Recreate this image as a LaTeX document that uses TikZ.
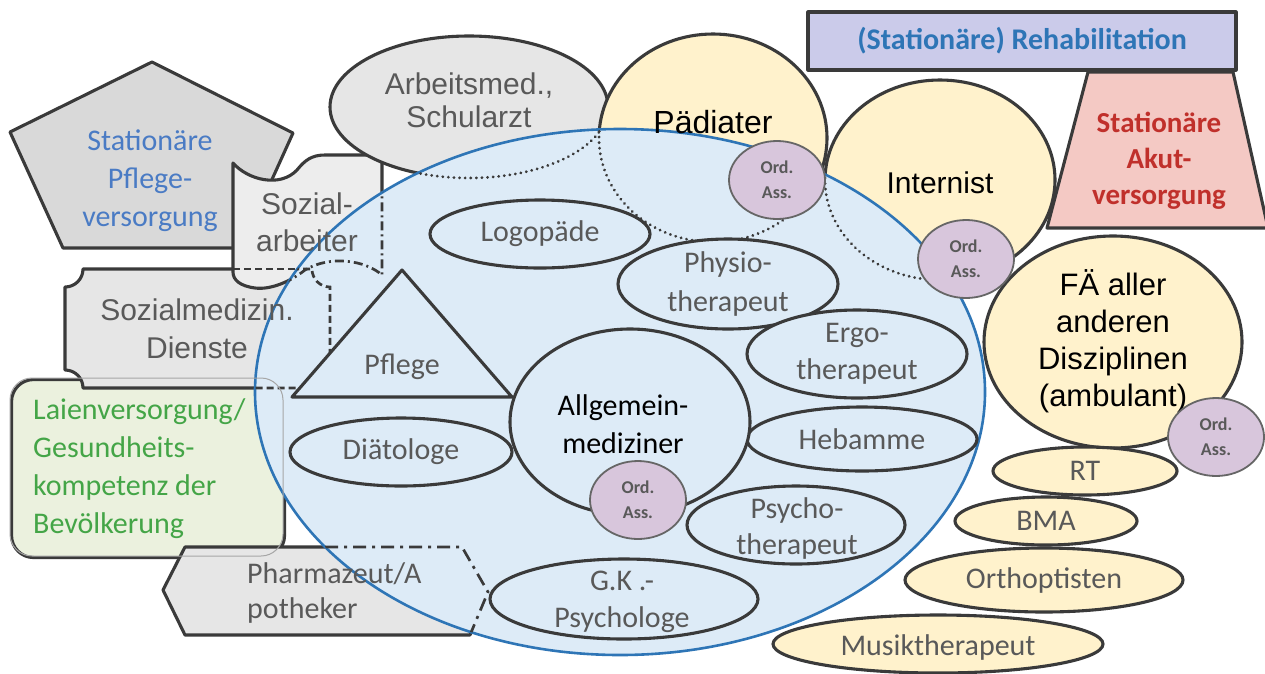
\documentclass[tikz,border=0pt]{standalone}
\usepackage{fontspec}
\setmainfont{Carlito}
\newfontfamily\arialf{Liberation Sans}
\usetikzlibrary{shapes.geometric}
\definecolor{edge}{HTML}{3A3A3A}
\definecolor{bluefill}{HTML}{DDEBF7}
\definecolor{blueline}{HTML}{2E75B6}
\definecolor{yel}{HTML}{FFF2CC}
\definecolor{gray1}{HTML}{D9D9D9}
\definecolor{gray2}{HTML}{EDEDED}
\definecolor{gray3}{HTML}{E6E6E6}
\definecolor{laien}{HTML}{EBF1DE}
\definecolor{oafill}{HTML}{D8C6DC}
\definecolor{oaedge}{HTML}{666666}
\definecolor{rehab}{HTML}{CBCBEA}
\definecolor{akut}{HTML}{F4C9C4}
\definecolor{txtgray}{HTML}{595959}
\definecolor{txtblue}{HTML}{4A7BC4}
\definecolor{txtblue2}{HTML}{2E75B6}
\definecolor{txtred}{HTML}{C0302B}
\definecolor{txtgreen}{HTML}{44A547}
\begin{document}
\begin{tikzpicture}[x=1pt,y=-1pt,
  shp/.style={draw=edge, line width=3.1pt, line join=round},
  ell/.style={ellipse, draw=edge, line width=3.1pt, inner sep=0pt},
  oa/.style={ellipse, draw=oaedge, fill=oafill, line width=1.8pt, inner sep=0pt, minimum width=96pt, minimum height=78pt},
  oat/.style={font=\bfseries\fontsize{18}{25}\selectfont, text=txtgray, align=center, inner sep=0pt},
  cal/.style={font=\fontsize{30}{38}\selectfont, text=txtgray, align=center, inner sep=0pt},
  ari/.style={font=\arialf\fontsize{30}{37}\selectfont, align=center, inner sep=0pt},
  dotline/.style={draw=edge, line width=3pt, dash pattern=on 0.1pt off 5.5pt, line cap=round},
  dashdot/.style={draw=edge, line width=2.7pt, dash pattern=on 9pt off 4pt on 2pt off 4pt},
  dashdotlong/.style={draw=edge, line width=2.7pt, dash pattern=on 13pt off 6pt on 3pt off 6pt},
  dashln/.style={draw=edge, line width=2.7pt, dash pattern=on 7pt off 4pt},
  faint/.style={draw=gray!70, line width=1pt},
]
\useasboundingbox (0,0) rectangle (1265,673);
\fill[white] (0,0) rectangle (1265,673);

% ---------- left gray shapes ----------
\draw[shp, fill=gray1] (152,62) -- (293,133) -- (241,248) -- (63,248) -- (10,132) -- cycle;
\node[shp, fill=laien, rounded corners=22pt, minimum width=273pt, minimum height=178pt, anchor=north west, inner sep=0pt] (laien) at (10,378) {};
\draw[shp, fill=gray3] (83,269) -- (312,269) .. controls (312,279) and (320,287) .. (330,287) -- (330,370) .. controls (320,370) and (312,378) .. (312,388) -- (83,388) .. controls (83,378) and (75,370) .. (65,370) -- (65,287) .. controls (75,287) and (83,279) .. (83,269) -- cycle;
\draw[shp, fill=gray2] (233,163) .. controls (248,180) and (280,188) .. (297,170) .. controls (305,160) and (312,155) .. (325,155) -- (382,155) -- (382,275) .. controls (365,260) and (330,255) .. (305,270) .. controls (290,282) and (270,290) .. (255,288) .. controls (240,286) and (233,280) .. (233,272) -- cycle;
\draw[dashln] (233,269) -- (312,269);
\draw[shp, fill=gray3] (163,590) -- (185,547) -- (462,547) -- (488,592) -- (470,635) -- (185,635) -- cycle;

% ---------- top ellipses ----------
\node[ell, fill=gray3, minimum width=278pt, minimum height=142pt] (arb) at (469,107) {};
\node[ell, fill=yel, minimum width=228pt, minimum height=208pt] (paed) at (713,138) {};
\node[ell, fill=yel, minimum width=230pt, minimum height=200pt] (intn) at (940,180) {};

% ---------- big blue ellipse ----------
\node[ellipse, draw=blueline, fill=bluefill, line width=2.6pt, minimum width=730pt, minimum height=526pt, inner sep=0pt] (allg) at (620,392) {};

% ---------- hidden outlines inside the blue ellipse ----------
\begin{scope}
\clip (620,392) ellipse (365pt and 263pt);
\draw[dotline] (469,107) ellipse (139pt and 71pt);
\draw[dotline] (713,138) ellipse (114pt and 104pt);
\draw[dotline] (940,180) ellipse (115pt and 100pt);
\draw[dashdot] (233,163) .. controls (248,180) and (280,188) .. (297,170) .. controls (305,160) and (312,155) .. (325,155) -- (382,155) -- (382,275) .. controls (365,260) and (330,255) .. (305,270) .. controls (290,282) and (270,290) .. (255,288) .. controls (240,286) and (233,280) .. (233,272) -- cycle;
\draw[dashln] (83,269) -- (312,269) .. controls (312,279) and (320,287) .. (330,287) -- (330,370) .. controls (320,370) and (312,378) .. (312,388) -- (83,388);
\draw[dashdotlong] (185,547) -- (462,547) -- (488,592) -- (470,635) -- (185,635);
\end{scope}
\draw[faint, rounded corners=22pt] (10,378) rectangle (283,556);

% ---------- texts of outer shapes ----------
\node[cal, text=txtblue] (pflt) at (150,181) {Stationäre\\Pflege-\\versorgung};
\node[ari, text=txtgray] (sozt) at (307,222) {Sozial-\\arbeiter};
\node[ari, text=txtgray, font=\arialf\fontsize{30}{38}\selectfont] (smt) at (197,329) {Sozialmedizin.\\Dienste};
\node[cal, text=txtgreen, align=left, anchor=west] (lt) at (33,469) {Laienversorgung/\\Gesundheits-\\kompetenz der\\Bevölkerung};
\node[cal, align=left, anchor=west, font=\fontsize{30}{35}\selectfont] (pht) at (247,593) {Pharmazeut/A\\potheker};
\node[ari, text=txtgray, font=\arialf\fontsize{30}{33}\selectfont] (arbt) at (469,100) {Arbeitsmed.,\\Schularzt};
\node[ari, font=\arialf\fontsize{32}{38}\selectfont] (paedt) at (713,122) {Pädiater};
\node[ari] (intt) at (940,183) {Internist};

% ---------- inner shapes ----------
\draw[shp, fill=bluefill] (292,397) -- (512,397) -- (402,270) -- cycle;
\node[cal] (pflege) at (402,367) {Pflege};
\node[ell, fill=bluefill, minimum width=220pt, minimum height=68pt] (logo) at (540,234) {};
\node[cal] (logo-t) at (logo) {Logopäde};
\node[ell, fill=bluefill, minimum width=220pt, minimum height=90pt] (physio) at (728,284) {};
\node[cal, font=\fontsize{30}{39}\selectfont] (physio-t) at (physio) {Physio-\\therapeut};
\node[ell, fill=bluefill, minimum width=220pt, minimum height=88pt] (ergo) at (857,354) {};
\node[cal, font=\fontsize{30}{37}\selectfont] (ergo-t) at (ergo) {Ergo-\\therapeut};
\node[ell, fill=bluefill, minimum width=230pt, minimum height=64pt] (heb) at (862,439) {};
\node[cal] (heb-t) at (heb) {Hebamme};
\node[ell, fill=bluefill, minimum width=218pt, minimum height=78pt] (psy) at (796,525) {};
\node[cal, font=\fontsize{30}{36}\selectfont] (psy-t) at (797,528) {Psycho-\\therapeut};
\node[ell, fill=bluefill, minimum width=268pt, minimum height=80pt] (gk) at (624,599) {};
\node[cal, font=\fontsize{30}{37}\selectfont] (gk-t) at (622,602) {G.K .-\\Psychologe};
\node[ell, fill=bluefill, minimum width=222pt, minimum height=68pt] (diat) at (401,452) {};
\node[cal] (diat-t) at (diat) {Diätologe};
\node[ell, fill=bluefill, minimum width=240pt, minimum height=186pt] (am) at (630,422) {};
\node[cal, text=black] (am-t) at (623,424) {Allgemein-\\mediziner};

% ---------- right side ----------
\node[ell, fill=yel, minimum width=258pt, minimum height=212pt] (fae) at (1113,342) {};
\node[ari, font=\arialf\fontsize{31}{37}\selectfont] (fae-t) at (1113,341) {FÄ aller\\anderen\\Disziplinen\\(ambulant)};
\node[ell, fill=yel, minimum width=184pt, minimum height=48pt] (rt) at (1085,471) {};
\node[cal] (rt-t) at (rt) {RT};
\node[ell, fill=yel, minimum width=182pt, minimum height=48pt] (bma) at (1046,521) {};
\node[cal] (bma-t) at (bma) {BMA};
\node[ell, fill=yel, minimum width=278pt, minimum height=64pt] (orth) at (1044,580) {};
\node[cal] (orth-t) at (orth) {Orthoptisten};
\node[ell, fill=yel, minimum width=330pt, minimum height=58pt] (musik) at (938,644) {};
\node[cal] (musik-t) at (938,647) {Musiktherapeut};

\node[shp, fill=rehab, minimum width=428pt, minimum height=58pt, inner sep=0pt] (reh) at (1022,41) {};
\node[cal, font=\bfseries\fontsize{30}{36}\selectfont, text=txtblue2] (reh-t) at (reh) {(Stationäre) Rehabilitation};
\draw[shp, fill=akut] (1088,72) -- (1233,72) -- (1268,228) -- (1047,228) -- cycle;
\node[cal, font=\bfseries\fontsize{29}{36}\selectfont, text=txtred] (akut-t) at (1159,161) {Stationäre\\Akut-\\versorgung};

% ---------- Ord. Ass. ----------
\node[oa] (oa1) at (777,180) {};
\node[oat] (oa1-t) at (oa1) {Ord.\\Ass.};
\node[oa] (oa2) at (966,259) {};
\node[oat] (oa2-t) at (oa2) {Ord.\\Ass.};
\node[oa] (oa3) at (638,500) {};
\node[oat] (oa3-t) at (oa3) {Ord.\\Ass.};
\node[oa] (oa4) at (1216,437) {};
\node[oat] (oa4-t) at (oa4) {Ord.\\Ass.};
\end{tikzpicture}
\end{document}
